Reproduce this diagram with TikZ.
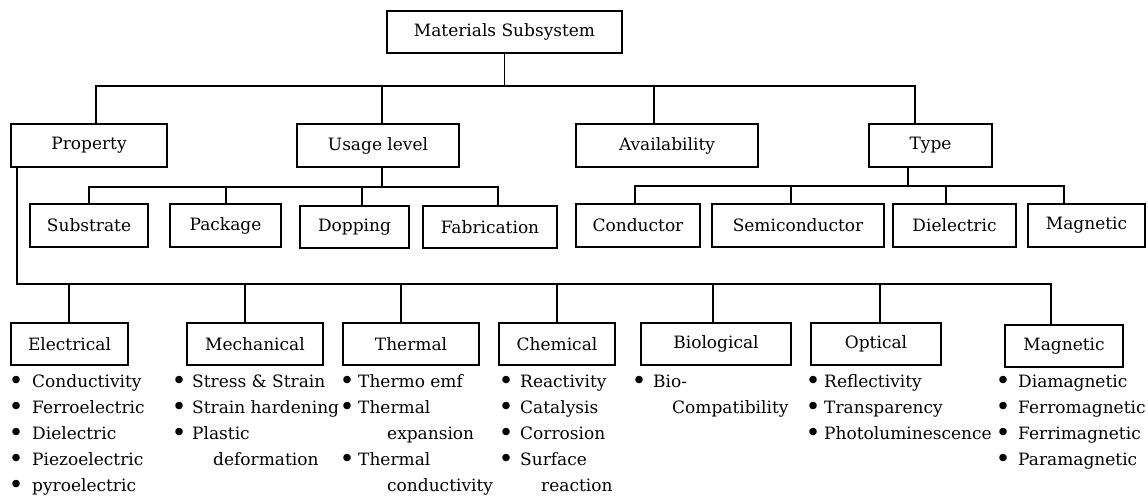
\documentclass[tikz,border=0pt]{standalone}
\usepackage{fontspec}
\setmainfont{DejaVu Serif}
% bullet placed at the anchor, followed by a gap to the item text
\newcommand\bul[1]{\makebox[0pt]{\raisebox{-2.4pt}{\scalebox{1.5}{\textbullet}}}\hspace*{#1pt}}
\newcommand\cont[1]{\hspace*{#1pt}}
\begin{document}
\begin{tikzpicture}[x=1pt,y=-1pt,
  box/.style={draw, line width=1.8pt, inner sep=0pt, font=\fontsize{17}{20}\selectfont},
  span/.style n args={4}{minimum width={(#2-#1)*1pt}, minimum height={(#4-#3)*1pt},
    at={({(#1+#2)/2},{(#3+#4)/2})}},
  wire/.style={line width=1.8pt},
  list/.style={inner sep=0pt, anchor=base west, font=\fontsize{17}{26}\selectfont}]
\useasboundingbox (0,0) rectangle (1148,498);

% root and first level
\node[box, span={387}{622}{11}{53}] (root) {Materials Subsystem};
\node[box, span={11}{167}{124}{167}] (prop) {Property};
\node[box, span={297}{459}{124}{167}] (usage) {Usage level};
\node[box, span={576}{758}{124}{167}] (avail) {Availability};
\node[box, span={869}{992}{124}{167}] (type) {Type};

% usage levels
\node[box, span={30}{148}{204}{247}] (subs) {Substrate};
\node[box, span={170}{281}{204}{247}] (pack) {Package};
\node[box, span={300}{409}{206}{248}] (dop) {Dopping};
\node[box, span={423}{557}{206}{248}] (fab) {Fabrication};

% material types
\node[box, span={576}{700}{204}{247}] (cond) {Conductor};
\node[box, span={712}{884}{204}{247}] (semi) {Semiconductor};
\node[box, span={893}{1016}{204}{247}] (diel) {Dielectric};
\node[box, span={1028}{1145}{204}{247}] (mag) {Magnetic};

% properties
\node[box, span={11}{128}{323}{365}] (elec) {Electrical};
\node[box, span={187}{323}{323}{365}] (mech) {Mechanical};
\node[box, span={343}{479}{323}{365}] (therm) {Thermal};
\node[box, span={499}{615}{323}{365}] (chem) {Chemical};
\node[box, span={641}{791}{323}{365}] (bio) {Biological};
\node[box, span={811}{941}{323}{365}] (opt) {Optical};
\node[box, span={1005}{1123}{325}{367}] (magp) {Magnetic};

% bus under the root
\coordinate (t1) at (96,86);
\coordinate (t2) at (382,86);
\coordinate (t3) at (654,86);
\coordinate (t4) at (915,86);
\draw[wire] (root.south) -- (root.south |- t1);
\draw[wire] (t1 |- prop.north) -- (t1) -- (t4) -- (t4 |- type.north);
\draw[wire] (t2) -- (t2 |- usage.north);
\draw[wire] (t3) -- (t3 |- avail.north);

% bus under usage level
\coordinate (u1) at (89,187);
\coordinate (u2) at (226,187);
\coordinate (u3) at (362,187);
\coordinate (u4) at (498,187);
\draw[wire] (t2 |- usage.south) -- (t2 |- u1);
\draw[wire] (u1 |- subs.north) -- (u1) -- (u4) -- (u4 |- fab.north);
\draw[wire] (u2) -- (u2 |- pack.north);
\draw[wire] (u3) -- (u3 |- dop.north);

% bus under type
\coordinate (v0) at (908,186);
\coordinate (v1) at (635,186);
\coordinate (v2) at (791,186);
\coordinate (v3) at (946,186);
\coordinate (v4) at (1064,186);
\draw[wire] (v0 |- type.south) -- (v0);
\draw[wire] (v1 |- cond.north) -- (v1) -- (v4) -- (v4 |- mag.north);
\draw[wire] (v2) -- (v2 |- semi.north);
\draw[wire] (v3) -- (v3 |- diel.north);

% bus from property
\coordinate (p0) at (17,284);
\coordinate (p1) at (69,284);
\coordinate (p2) at (245,284);
\coordinate (p3) at (401,284);
\coordinate (p4) at (557,284);
\coordinate (p5) at (713,284);
\coordinate (p6) at (880,284);
\coordinate (p7) at (1051,284);
\draw[wire] (p0 |- prop.south) -- (p0) -- (p7) -- (p7 |- magp.north);
\draw[wire] (p1) -- (p1 |- elec.north);
\draw[wire] (p2) -- (p2 |- mech.north);
\draw[wire] (p3) -- (p3 |- therm.north);
\draw[wire] (p4) -- (p4 |- chem.north);
\draw[wire] (p5) -- (p5 |- bio.north);
\draw[wire] (p6) -- (p6 |- opt.north);

% item lists
\node[list] (elecl) at (16,387) {\begin{tabular}[t]{@{}l@{}}
\bul{16}Conductivity\\ \bul{16}Ferroelectric\\ \bul{16}Dielectric\\
\bul{16}Piezoelectric\\ \bul{16}pyroelectric\end{tabular}};
\node[list] (mechl) at (179,387) {\begin{tabular}[t]{@{}l@{}}
\bul{13}Stress \& Strain\\ \bul{13}Strain hardening\\ \bul{13}Plastic\\
\cont{34}deformation\end{tabular}};
\node[list] (therml) at (347,387) {\begin{tabular}[t]{@{}l@{}}
\bul{11}Thermo emf\\ \bul{11}Thermal\\ \cont{40}expansion\\
\bul{11}Thermal\\ \cont{40}conductivity\end{tabular}};
\node[list] (cheml) at (506,387) {\begin{tabular}[t]{@{}l@{}}
\bul{14}Reactivity\\ \bul{14}Catalysis\\ \bul{14}Corrosion\\
\bul{14}Surface\\ \cont{35}reaction\end{tabular}};
\node[list] (biol) at (639,387) {\begin{tabular}[t]{@{}l@{}}
\bul{14}Bio-\\ \cont{33}Compatibility\end{tabular}};
\node[list] (optl) at (813,387) {\begin{tabular}[t]{@{}l@{}}
\bul{11}Reflectivity\\ \bul{11}Transparency\\ \bul{11}Photoluminescence\end{tabular}};
\node[list] (magl) at (1003,387) {\begin{tabular}[t]{@{}l@{}}
\bul{15}Diamagnetic\\ \bul{15}Ferromagnetic\\ \bul{15}Ferrimagnetic\\
\bul{15}Paramagnetic\end{tabular}};
\end{tikzpicture}
\end{document}
